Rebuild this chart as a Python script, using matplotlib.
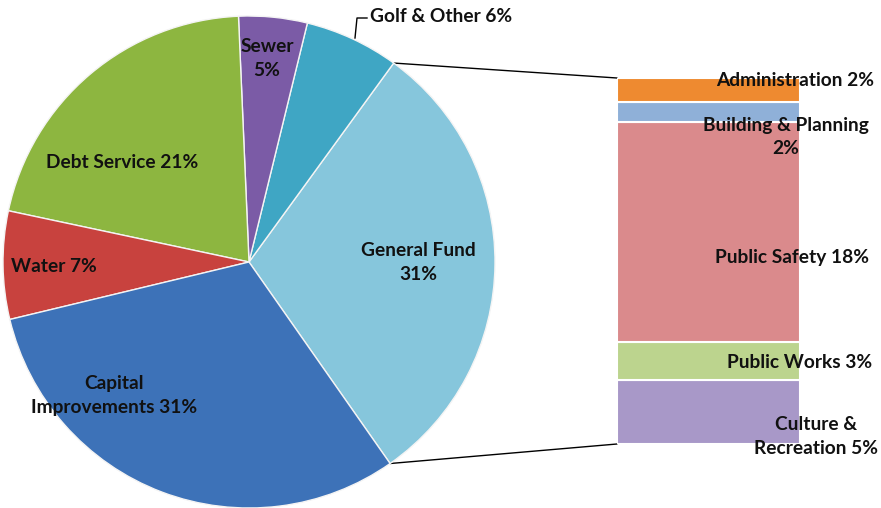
import numpy as np
import matplotlib
matplotlib.use("Agg")
import matplotlib.pyplot as plt
from matplotlib.patches import ConnectionPatch

# ---- data ----
pie_labels = ["General Fund\n31%", "Golf & Other 6%", "Sewer\n5%", "Debt Service 21%",
              "Water 7%", "Capital\nImprovements 31%"]
pie_values = [30.3, 6.2, 4.5, 21.0, 7.1, 31.0]
pie_colors = ["#86C6DC", "#3FA6C4", "#7B5BA6", "#8DB640", "#C8423E", "#3D72B8"]

bar_labels = ["Culture &\nRecreation 5%", "Public Works 3%", "Public Safety 18%",
              "Building & Planning\n2%", "Administration 2%"]
bar_values = [5.2, 3.1, 18.0, 1.6, 2.0]
bar_colors = ["#A898C8", "#BCD48E", "#DA8A8C", "#8FB0D8", "#EE8A30"]

W, H = 881, 508
fig = plt.figure(figsize=(W / 100, H / 100), dpi=100)

# ---- bar of pie (drawn underneath) ----
bx0, bx1, by0, by1 = 617, 800, 444, 78
bax = fig.add_axes([bx0 / W, (H - by0) / H, (bx1 - bx0) / W, (by0 - by1) / H])
bax.set_zorder(1)
total = sum(bar_values)
bottom = 0
for v, c in zip(bar_values, bar_colors):
    bax.bar(0.5, v, width=1.0, bottom=bottom, color=c, edgecolor="white", linewidth=1.5)
    bottom += v
bax.set_xlim(0, 1)
bax.set_ylim(0, total)
bax.axis("off")

ax = fig.add_axes([0, 0, 1, 1])
ax.set_zorder(2)
ax.patch.set_visible(False)

font = dict(family=["Lato", "DejaVu Sans"], fontweight="bold", fontsize=13.8, color="#111111")

cx, cy, R = 249, 508 - 262, 246
start = -55
wedges, _ = ax.pie(pie_values, colors=pie_colors, startangle=start, counterclock=True,
                   center=(cx, cy), radius=R, frame=True,
                   wedgeprops=dict(edgecolor="#f4f4f4", linewidth=1.0))
ax.set_xlim(0, W)
ax.set_ylim(0, H)
ax.set_aspect("equal")
ax.axis("off")

# pie labels (positions in pixel space, y flipped)
pie_label_pos = [(418, 262, "center"), (370, 17, "left"), (267, 58, "center"),
                 (122, 162, "center"), (54, 266, "center"), (114, 396, "center")]
for lab, (x, y, ha) in zip(pie_labels, pie_label_pos):
    ax.text(x, H - y, lab, ha=ha, va="center", multialignment="center",
            linespacing=1.5, **font)

# leader line for Golf & Other
ax.plot([355, 357, 367], [H - 38, H - 18, H - 18], color="black", lw=1)

bar_label_pos = [(816, 437), (800, 363), (792, 257), (786, 137), (795, 81)]
for lab, (x, y) in zip(bar_labels, bar_label_pos):
    ax.text(x, H - y, lab, ha="center", va="center", multialignment="center",
            linespacing=1.5, zorder=5, **font)

# connector lines from General Fund wedge edges to bar corners
gf = wedges[0]
for ang, by in [(gf.theta2, total), (gf.theta1, 0)]:
    px = cx + R * np.cos(np.radians(ang))
    py = cy + R * np.sin(np.radians(ang))
    con = ConnectionPatch(xyA=(px, py), coordsA=ax.transData,
                          xyB=(0, by), coordsB=bax.transData, color="black", lw=1)
    fig.add_artist(con)

fig.savefig("out.png", dpi=100)
